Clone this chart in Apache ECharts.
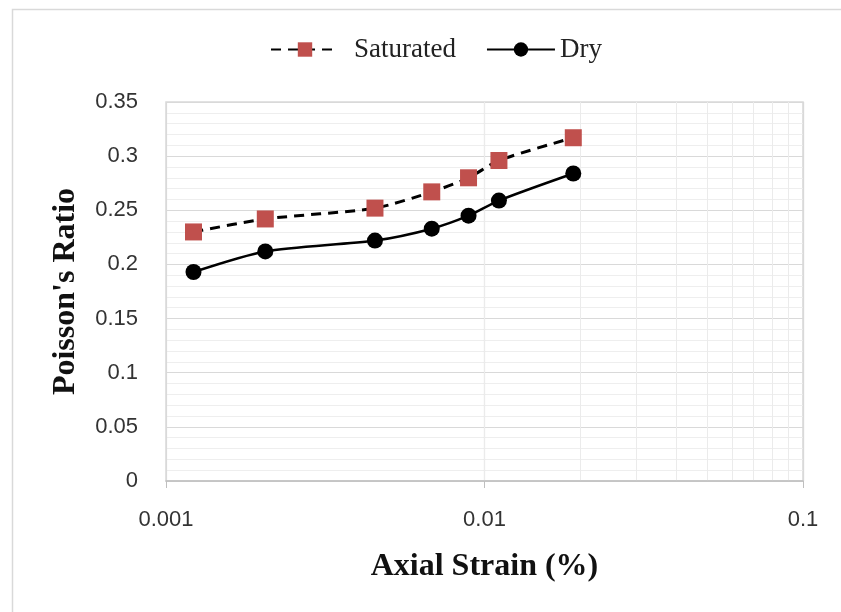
<!DOCTYPE html>
<html>
<head>
<meta charset="utf-8">
<script src="https://cdn.jsdelivr.net/npm/echarts@6/dist/echarts.min.js"></script>
<style>html,body{margin:0;padding:0;background:#fff;}#c{width:841px;height:612px;}</style>
</head>
<body>
<div id="c"></div>
<script>
const strain = [0.00122, 0.00205, 0.00453, 0.00683, 0.00891, 0.0111, 0.0190];
const saturated = [0.230, 0.242, 0.252, 0.267, 0.280, 0.296, 0.317];
const dry = [0.193, 0.212, 0.222, 0.233, 0.245, 0.259, 0.284];
const minorX = [0.002,0.003,0.004,0.005,0.006,0.007,0.008,0.009,0.02,0.03,0.04,0.05,0.06,0.07,0.08,0.09];
const xTickLabels = {0.001:'0.001', 0.01:'0.01', 0.1:'0.1'};

const chart = echarts.init(document.getElementById('c'), null, {renderer:'canvas'});
const tickFont = {fontFamily:'Liberation Sans', fontSize:22, color:'#333'};
const legendText = {fontFamily:'Liberation Serif', fontSize:27, color:'#222'};
chart.setOption({
  backgroundColor:'#fff',
  animation:false,
  graphic:[{type:'rect', left:10, top:7, shape:{width:840, height:620}, style:{fill:'none', stroke:'#d9d9d9', lineWidth:1.5}, z:-1}],
  legend:{
    top:31, left:265, itemWidth:68, itemHeight:18, itemGap:30,
    formatter:n => n === 'Saturated' ? '{a|' + n + '}' : '{b|' + n + '}',
    textStyle:Object.assign({rich:{a:Object.assign({padding:[0,0,0,10]}, legendText), b:Object.assign({}, legendText)}}, legendText),
    data:['Saturated','Dry']
  },
  grid:{left:166, right:38, top:102, bottom:131, show:true, borderColor:'#d9d9d9', borderWidth:1.5},
  xAxis:{
    type:'log', logBase:10, min:0.001, max:0.1,
    name:'Axial Strain (%)', nameLocation:'middle', nameGap:70,
    nameTextStyle:{fontFamily:'Liberation Serif', fontWeight:'bold', fontSize:32, color:'#111'},
    axisLine:{lineStyle:{color:'#bfbfbf', width:1.5}},
    axisTick:{show:true, length:7, lineStyle:{color:'#bfbfbf'}},
    axisLabel:Object.assign({margin:28, formatter:v=>xTickLabels[+v.toPrecision(3)] || ''}, tickFont),
    splitLine:{show:true, lineStyle:{color:'#d9d9d9', width:1.2}}
  },
  yAxis:{
    type:'value', min:0, max:0.35, interval:0.05,
    name:"Poisson's Ratio", nameLocation:'middle', nameGap:84, nameRotate:90,
    nameTextStyle:{fontFamily:'Liberation Serif', fontWeight:'bold', fontSize:32, color:'#111'},
    axisLine:{show:false}, axisTick:{show:false},
    axisLabel:Object.assign({margin:28}, tickFont),
    splitLine:{show:true, lineStyle:{color:'#d9d9d9', width:1.2}},
    minorTick:{show:false, splitNumber:5},
    minorSplitLine:{show:true, lineStyle:{color:'#eeeeee', width:1}}
  },
  series:[
    {
      name:'Saturated', type:'line', smooth:0.25,
      data:strain.map((x,i)=>[x, saturated[i]]),
      symbol:'rect', symbolSize:17,
      itemStyle:{color:'#c0504d'},
      lineStyle:{color:'#000', width:3, type:[10,7]},
      z:3,
      markLine:{
        silent:true, symbol:'none', label:{show:false},
        lineStyle:{color:'#ebebeb', width:1, type:'solid'},
        data:minorX.map(v=>({xAxis:v})), z:0
      }
    },
    {
      name:'Dry', type:'line', smooth:0.25,
      data:strain.map((x,i)=>[x, dry[i]]),
      symbol:'circle', symbolSize:16,
      itemStyle:{color:'#000'},
      lineStyle:{color:'#000', width:2.5},
      z:4
    }
  ]
});
</script>
</body>
</html>
